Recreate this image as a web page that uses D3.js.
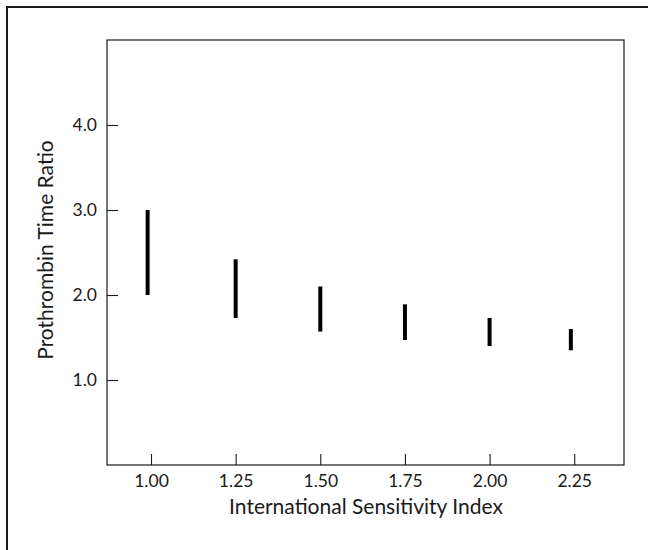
<!DOCTYPE html>
<html>
<head>
<meta charset="utf-8">
<script src="https://cdn.jsdelivr.net/npm/d3@7"></script>
<style>
  html, body { margin: 0; padding: 0; background: #fff; }
  svg { display: block; }
</style>
</head>
<body>
<svg id="chart" width="648" height="550"></svg>
<script>
// ---- data ----
const isiValues = [0.99, 1.25, 1.50, 1.75, 2.00, 2.24];
const ratioLow  = [2.00, 1.73, 1.57, 1.47, 1.40, 1.35];
const ratioHigh = [3.00, 2.42, 2.10, 1.89, 1.73, 1.60];
const xTicks = [1.00, 1.25, 1.50, 1.75, 2.00, 2.25];
const yTicks = [1.0, 2.0, 3.0, 4.0];
const xTitle = "International Sensitivity Index";
const yTitle = "Prothrombin Time Ratio";

const svg = d3.select("#chart");
const ink = "#1a1a1a";
const font = "Lato, 'Open Sans', sans-serif";

// outer frame (only top and left edges fall inside the picture)
svg.append("path")
  .attr("d", "M7,560 L7,7 L660,7")
  .attr("fill", "none")
  .attr("stroke", ink)
  .attr("stroke-width", 2);

const box = { left: 107, right: 624, top: 40, bottom: 465 };

const x = d3.scaleLinear().domain([0.87, 2.397]).range([box.left, box.right]);
const y = d3.scaleLinear().domain([0, 5]).range([box.bottom, box.top]);

// plot box
svg.append("rect")
  .attr("x", box.left).attr("y", box.top)
  .attr("width", box.right - box.left).attr("height", box.bottom - box.top)
  .attr("fill", "none").attr("stroke", ink).attr("stroke-width", 1.2);

// axes
const xAxis = d3.axisBottom(x).tickValues(xTicks).tickFormat(d3.format(".2f"))
  .tickSize(-11).tickPadding(10);
const yAxis = d3.axisLeft(y).tickValues(yTicks).tickFormat(d3.format(".1f"))
  .tickSize(-11).tickPadding(10);

const gx = svg.append("g").attr("transform", `translate(0,${box.bottom})`).call(xAxis);
const gy = svg.append("g").attr("transform", `translate(${box.left},0)`).call(yAxis);

[gx, gy].forEach(g => {
  g.select(".domain").remove();
  g.selectAll(".tick line").attr("stroke", ink).attr("stroke-width", 1.1);
  g.selectAll(".tick text").attr("fill", ink)
    .style("font-family", font).style("font-size", "17.5px");
});

// range bars
svg.append("g").selectAll("line")
  .data(isiValues)
  .join("line")
  .attr("x1", d => x(d)).attr("x2", d => x(d))
  .attr("y1", (d, i) => y(ratioLow[i]))
  .attr("y2", (d, i) => y(ratioHigh[i]))
  .attr("stroke", "#000")
  .attr("stroke-width", 4);

// titles
svg.append("text")
  .attr("x", 366)
  .attr("y", 514)
  .attr("text-anchor", "middle")
  .attr("fill", ink)
  .style("font-family", font).style("font-size", "21px")
  .text(xTitle);

svg.append("text")
  .attr("transform", `translate(53,250) rotate(-90)`)
  .attr("text-anchor", "middle")
  .attr("fill", ink)
  .style("font-family", font).style("font-size", "21px")
  .text(yTitle);
</script>
</body>
</html>
